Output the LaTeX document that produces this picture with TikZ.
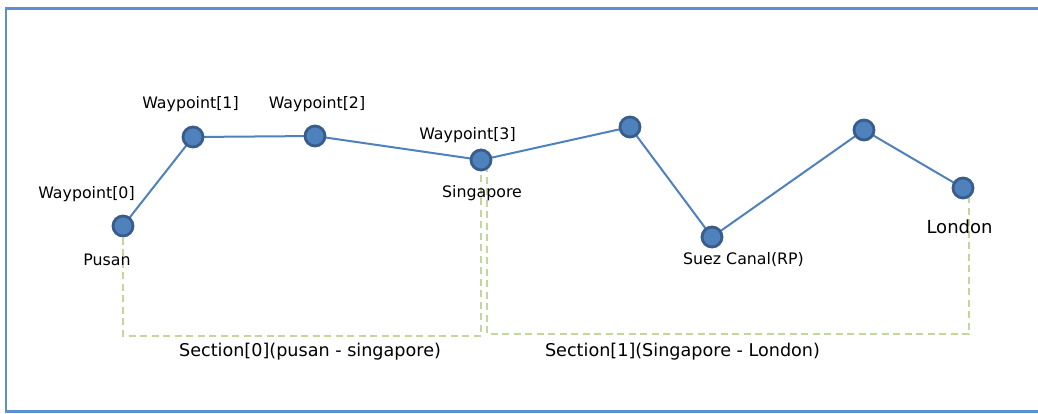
\documentclass[tikz,border=0pt]{standalone}
\usepackage{fontspec}
\setmainfont{DejaVu Sans}
\usetikzlibrary{calc}
\definecolor{framec}{HTML}{5B8FD6}
\definecolor{routec}{HTML}{4F81BD}
\definecolor{ptfill}{HTML}{4F81BD}
\definecolor{ptdraw}{HTML}{385D8A}
\definecolor{secc}{HTML}{C3D69B}
\begin{document}
\begin{tikzpicture}[x=1pt,y=-1pt,
  wpt/.style={circle,fill=ptfill,draw=ptdraw,line width=2.8pt,minimum size=20pt,inner sep=0pt},
  route/.style={draw=routec,line width=2pt},
  secline/.style={draw=secc,line width=2pt,dash pattern=on 7pt off 4.5pt},
  lbl/.style={inner sep=0pt,font=\fontsize{15.8}{18}\selectfont,text=black},
  seclbl/.style={inner sep=0pt,font=\fontsize{17.6}{20}\selectfont,text=black},
  biglbl/.style={inner sep=0pt,font=\fontsize{18}{21}\selectfont,text=black}]
\useasboundingbox (0,0) rectangle (1038,413);
\fill[white] (0,0) rectangle (1038,413);
\draw[framec,line width=2.6pt] (6,8.5) rectangle (1045,411.5);
% coordinates of waypoints
\coordinate (c0) at (123,226);
\coordinate (c1) at (193,137);
\coordinate (c2) at (315,136);
\coordinate (c3) at (481,160);
\coordinate (c4) at (630,127);
\coordinate (c5) at (712,237);
\coordinate (c6) at (864,130);
\coordinate (c7) at (963,188);
% section outlines
\coordinate (sb0) at (0,335.5);
\coordinate (sb1) at (0,334);
\coordinate (s1start) at (487,165);
\coordinate (s1end) at (969,195);
\draw[secline] (c0) -- (c0 |- sb0) -- (c3 |- sb0) -- (c3);
\draw[secline] (s1start) -- (s1start |- sb1) -- (s1end |- sb1) -- (s1end);
% route
\draw[route] (c0) -- (c1) -- (c2) -- (c3) -- (c4) -- (c5) -- (c6) -- (c7);
% waypoints
\node[wpt] (p0) at (c0) {};
\node[wpt] (p1) at (c1) {};
\node[wpt] (p2) at (c2) {};
\node[wpt] (p3) at (c3) {};
\node[wpt] (p4) at (c4) {};
\node[wpt] (p5) at (c5) {};
\node[wpt] (p6) at (c6) {};
\node[wpt] (p7) at (c7) {};
% labels
\node[lbl] (l0) at (86.5,194) {Waypoint[0]};
\node[lbl] (l0b) at (107,260) {Pusan};
\node[lbl] (l1) at (190.5,104) {Waypoint[1]};
\node[lbl] (l2) at (317,104) {Waypoint[2]};
\node[lbl] (l3) at (467.5,135) {Waypoint[3]};
\node[lbl] (l3b) at (482,193) {Singapore};
\node[lbl] (l5) at (743.5,260) {Suez Canal(RP)};
\node[biglbl] (l7) at (959.5,227) {London};
\node[seclbl] (s0) at (310,351.5) {Section[0](pusan - singapore)};
\node[seclbl] (s1) at (682.5,351.5) {Section[1](Singapore - London)};
\end{tikzpicture}
\end{document}
